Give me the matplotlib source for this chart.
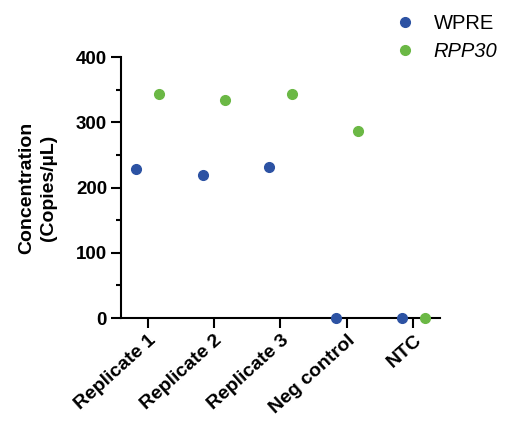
import matplotlib.pyplot as plt
from matplotlib.ticker import MultipleLocator
import numpy as np

plt.rcParams['font.family'] = ['Liberation Sans', 'DejaVu Sans']

categories = ["Replicate 1", "Replicate 2", "Replicate 3", "Neg control", "NTC"]
wpre = [228, 219, 231, 0, 0]
rpp30 = [344, 334, 343, 287, 0]

blue = "#2C52A3"
green = "#6BB845"

fig = plt.figure(figsize=(5.09, 4.23), dpi=100)
ax = fig.add_axes([0.2377, 0.2482, 0.6267, 0.617])

x = np.arange(len(categories))
off = 0.17
ax.plot(x - off, wpre, 'o', color=blue, ms=7, clip_on=False, zorder=3, label="WPRE")
ax.plot(x + off, rpp30, 'o', color=green, ms=7, clip_on=False, zorder=3, label="RPP30")

ax.set_xlim(-0.4, 4.4)
ax.set_ylim(0, 400)
ax.yaxis.set_major_locator(MultipleLocator(100))
ax.yaxis.set_minor_locator(MultipleLocator(50))
ax.set_xticks(x)
ax.set_xticklabels(categories, rotation=42, ha='right', rotation_mode='anchor',
                   fontsize=14, fontweight='bold')
for lab in ax.get_yticklabels():
    lab.set_fontweight('bold')
    lab.set_fontsize(13.5)

ax.spines['top'].set_visible(False)
ax.spines['right'].set_visible(False)
for s in ['left', 'bottom']:
    ax.spines[s].set_linewidth(1.5)
ax.tick_params(which='major', length=7, width=1.5, pad=3)
ax.tick_params(which='minor', length=3.5, width=1.5)

ax.set_ylabel("Concentration\n(Copies/µL)", fontsize=14, fontweight='bold',
              labelpad=14, linespacing=1.3)

leg = ax.legend(loc='upper left', bbox_to_anchor=(0.785, 1.235), frameon=False,
                fontsize=14.5, handletextpad=0.7, labelspacing=0.45,
                handlelength=1.5, markerscale=1.0)
leg.get_texts()[1].set_fontstyle('italic')

fig.savefig("out.png", dpi=100)
